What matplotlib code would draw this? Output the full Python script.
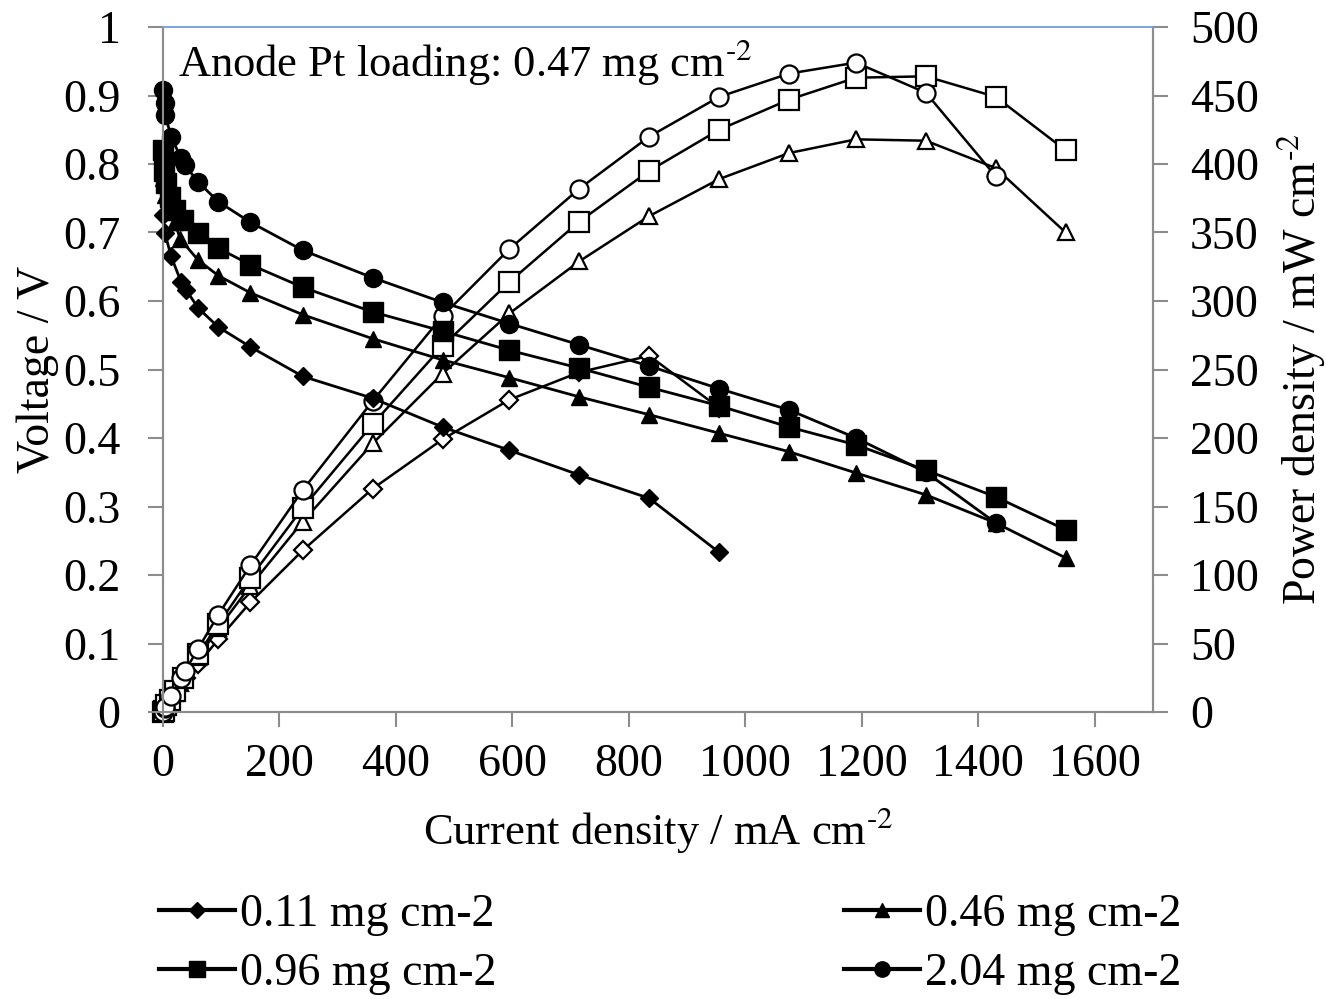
import numpy as np
import matplotlib.pyplot as plt

plt.rcParams['font.family'] = ['Liberation Serif', 'DejaVu Serif']
plt.rcParams['mathtext.fontset'] = 'stix'

# current density (mA cm-2), voltage (V), power density (mW cm-2)
i_011 = [0, 3, 14, 31, 40, 60, 95, 150, 240, 360, 480, 595, 715, 835, 955]
v_011 = [0.726, 0.700, 0.665, 0.628, 0.616, 0.590, 0.562, 0.533, 0.490, 0.458, 0.416, 0.382, 0.346, 0.312, 0.233]
p_011 = [0, 2, 9, 19, 25, 35, 53, 80, 118, 163, 199, 228, 248, 260, 222]

i_046 = [0, 3, 10, 20, 30, 60, 95, 150, 240, 360, 480, 595, 715, 835, 955, 1075, 1190, 1310, 1430, 1550]
v_046 = [0.780, 0.755, 0.735, 0.715, 0.690, 0.660, 0.637, 0.612, 0.580, 0.545, 0.514, 0.488, 0.460, 0.434, 0.407, 0.380, 0.349, 0.317, 0.276, 0.225]
p_046 = [0, 2, 7, 14, 21, 40, 61, 92, 139, 196, 247, 291, 329, 362, 389, 408, 418, 417, 397, 350]

i_096 = [0, 1, 6, 12, 20, 35, 60, 95, 150, 240, 360, 480, 595, 715, 835, 955, 1075, 1190, 1310, 1430, 1550]
v_096 = [0.820, 0.790, 0.772, 0.752, 0.733, 0.718, 0.700, 0.677, 0.653, 0.620, 0.584, 0.556, 0.528, 0.502, 0.474, 0.447, 0.416, 0.390, 0.353, 0.314, 0.266]
p_096 = [0, 1, 5, 9, 15, 25, 42, 64, 98, 149, 210, 267, 314, 358, 395, 425, 447, 463, 464, 449, 410]

i_204 = [0, 3, 4, 14, 31, 38, 60, 95, 150, 240, 360, 480, 595, 715, 835, 955, 1075, 1190, 1310, 1430]
v_204 = [0.908, 0.889, 0.872, 0.839, 0.809, 0.798, 0.774, 0.745, 0.715, 0.674, 0.634, 0.598, 0.567, 0.536, 0.505, 0.472, 0.441, 0.400, 0.350, 0.276]
p_204 = [0, 3, 4, 12, 25, 30, 46, 71, 107, 162, 227, 289, 338, 382, 420, 449, 466, 474, 452, 391]

labels = ['0.11 mg cm-2', '0.46 mg cm-2', '0.96 mg cm-2', '2.04 mg cm-2']
markers = ['D', '^', 's', 'o']
msizes = [9, 12, 14, 13]

FS = 33
SUP = r'$^{\text{-}2}$'

fig = plt.figure(figsize=(13.26, 9.99), dpi=100)
ax = fig.add_axes([163/1326, 1-712/999, (1153-163)/1326, (712-27)/999])
ax2 = ax.twinx()
ax.set_zorder(ax2.get_zorder() + 1)
ax.patch.set_visible(False)

series = [(i_011, v_011, p_011), (i_046, v_046, p_046), (i_096, v_096, p_096), (i_204, v_204, p_204)]
handles = []
for (cur, v, p), m, ms, lab in zip(series, markers, msizes, labels):
    h, = ax.plot(cur, v, color='black', lw=2, marker=m, ms=ms, mfc='black', mec='black',
                 clip_on=False, label=lab)
    handles.append(h)
    ax2.plot(cur, p, color='black', lw=1.8, marker=m, ms=ms, mfc='white', mec='black', mew=1.6,
             clip_on=False)

ax.set_xlim(0, 1700)
ax.set_ylim(0, 1)
ax2.set_ylim(0, 500)
ax.set_xticks(np.arange(0, 1601, 200))
ax.set_yticks(np.arange(0, 1.01, 0.1))
ax.set_yticklabels(['0', '0.1', '0.2', '0.3', '0.4', '0.5', '0.6', '0.7', '0.8', '0.9', '1'])
ax2.set_yticks(np.arange(0, 501, 50))

gray = '#8c8c8c'
for a in (ax, ax2):
    for s in ('left', 'right', 'bottom'):
        a.spines[s].set_color(gray)
        a.spines[s].set_linewidth(1.5)
    a.spines['top'].set_color('#7aa6da')
    a.spines['top'].set_linewidth(1.2)
    a.tick_params(colors=gray, labelcolor='black', labelsize=FS, width=1.5, length=10.5,
                  direction='out')
ax.tick_params(axis='y', pad=20)
ax.tick_params(axis='x', pad=12)
ax2.tick_params(axis='y', pad=16)

ax.set_xlabel('Current density / mA cm' + SUP, fontsize=32, labelpad=14)
ax.set_ylabel('Voltage / V', fontsize=FS, labelpad=3)
ax2.set_ylabel('Power density / mW cm' + SUP, fontsize=FS, labelpad=12)

ax.text(0.015, 0.949, 'Anode Pt loading: 0.47 mg cm' + SUP, transform=ax.transAxes,
        fontsize=32, ha='left', va='center')

order = [0, 2, 1, 3]
leg = fig.legend([handles[k] for k in order], [labels[k] for k in order], ncol=2,
                 loc='upper left', bbox_to_anchor=(0.103, 0.129), frameon=False, fontsize=FS,
                 borderpad=0, handlelength=1.65, handletextpad=0.1, columnspacing=7.6,
                 labelspacing=0.37, markerscale=0.85)
for ln in leg.get_lines():
    ln.set_linewidth(3)

fig.savefig('out.png', dpi=100)
